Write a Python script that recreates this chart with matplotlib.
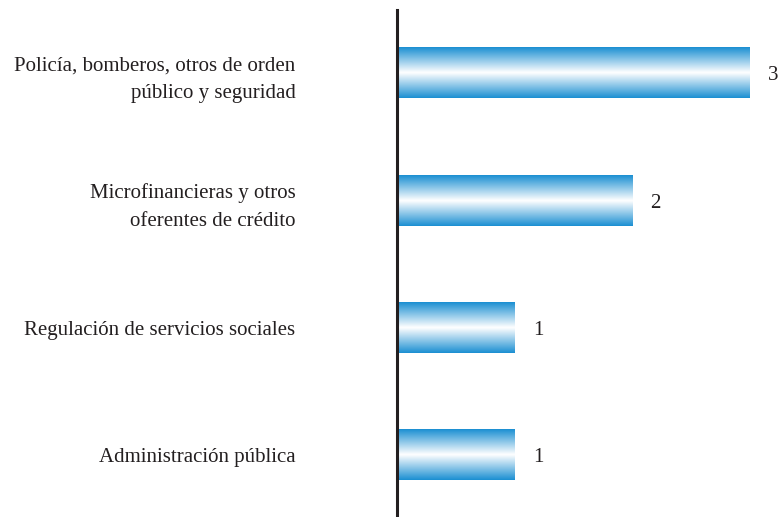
import numpy as np
import matplotlib
matplotlib.use('Agg')
import matplotlib.pyplot as plt
from matplotlib.colors import LinearSegmentedColormap

plt.rcParams['font.family'] = ['Liberation Serif', 'DejaVu Serif']

# categorías y valores (de arriba hacia abajo)
categorias = [
    'Policía, bomberos, otros de orden\npúblico y seguridad',
    'Microfinancieras y otros\noferentes de crédito',
    'Regulación de servicios sociales',
    'Administración pública',
]
valores = [3, 2, 1, 1]

azul = '#1b8fd2'
cmap = LinearSegmentedColormap.from_list('barra', [azul, '#ffffff', azul])

fig = plt.figure(figsize=(7.8, 5.17), dpi=100)
ax = fig.add_axes([397 / 780, 0, 383 / 780, 507 / 517])

alto = 0.40
grad = np.linspace(0, 1, 256).reshape(-1, 1)
pos = np.arange(len(categorias))
for y, v in zip(pos, valores):
    ax.imshow(grad, cmap=cmap, aspect='auto', interpolation='bilinear',
              extent=(0, v, y + alto / 2, y - alto / 2), zorder=2)
    ax.annotate(str(v), xy=(v, y), xytext=(13, -2), textcoords='offset points',
                ha='left', va='center', fontsize=15, color='#231f20')

ax.set_xlim(0, 3 * 383 / 353)
ax.set_ylim(3.487, -0.495)
ax.set_yticks(pos)
ax.set_yticklabels(categorias, fontsize=15, color='#231f20', linespacing=1.6)
ax.tick_params(axis='y', length=0, pad=73)
ax.set_xticks([])
for s in ['top', 'right', 'bottom']:
    ax.spines[s].set_visible(False)
ax.spines['left'].set_color('#231f20')
ax.spines['left'].set_linewidth(2.2)
ax.spines['left'].set_zorder(3)

fig.savefig('out.png', dpi=100)
